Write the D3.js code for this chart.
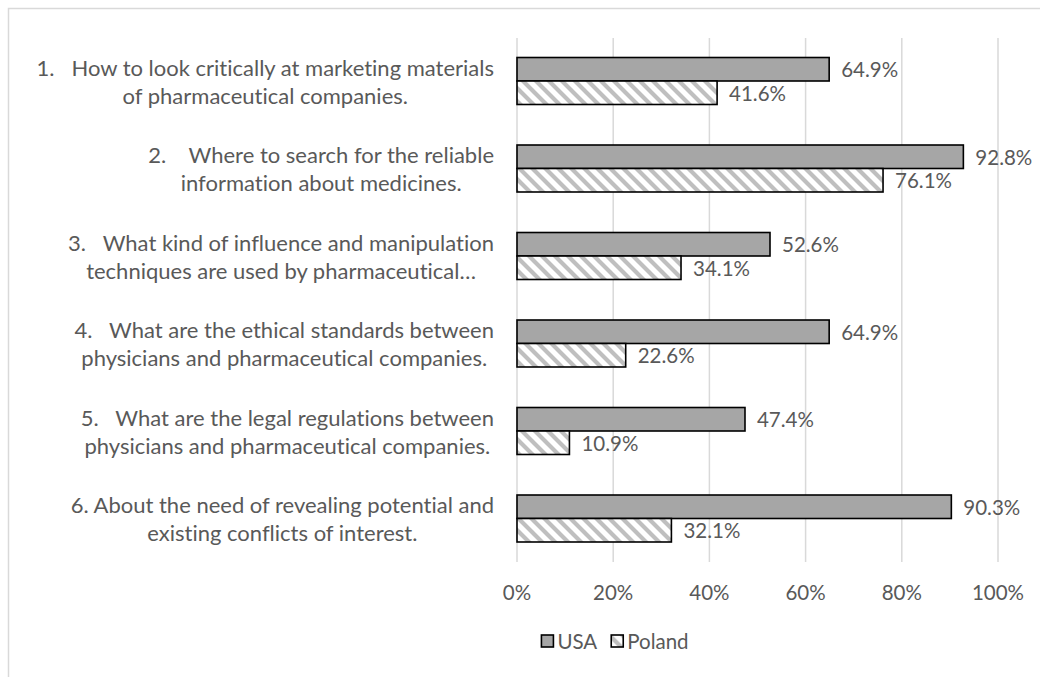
<!DOCTYPE html>
<html>
<head>
<meta charset="utf-8">
<script src="https://cdn.jsdelivr.net/npm/d3@7/dist/d3.min.js"></script>
<style>
  html, body { margin: 0; padding: 0; background: #fff; }
  svg text { font-family: Lato, "Open Sans", sans-serif; fill: #595959; white-space: pre;
             font-variant-ligatures: none; font-feature-settings: "liga" 0, "clig" 0; }
</style>
</head>
<body>
<svg id="chart" width="1040" height="677"></svg>
<script>
const categories = [
  ["1.   How to look critically at marketing materials", "of pharmaceutical companies."],
  ["2.    Where to search for the reliable", "information about medicines."],
  ["3.   What kind of influence and manipulation", "techniques are used by pharmaceutical\u2026"],
  ["4.   What are the ethical standards between", "physicians and pharmaceutical companies."],
  ["5.   What are the legal regulations between", "physicians and pharmaceutical companies."],
  ["6. About the need of revealing potential and", "existing conflicts of interest."]
];
const seriesNames = ["USA", "Poland"];
const usaValues = [64.9, 92.8, 52.6, 64.9, 47.4, 90.3];
const polandValues = [41.6, 76.1, 34.1, 22.6, 10.9, 32.1];
const tickValues = [0, 20, 40, 60, 80, 100];
const tickLabels = ["0%", "20%", "40%", "60%", "80%", "100%"];

const svg = d3.select("#chart");
const FS_CAT = 22;
const FS = 20.5;

// hatch pattern
const T = 13;
const defs = svg.append("defs");
const pat = defs.append("pattern")
  .attr("id", "hatch").attr("patternUnits", "userSpaceOnUse")
  .attr("width", T).attr("height", T);
pat.append("rect").attr("width", T).attr("height", T).attr("fill", "#fff");
pat.append("path")
  .attr("d", `M-3,-3 L${T+3},${T+3} M${-T/2-3},${T/2-3} L${T/2+3},${T+T/2+3} M${T/2-3},${-T/2-3} L${T+T/2+3},${T/2+3}`)
  .attr("stroke", "#bfbfbf").attr("stroke-width", 4.2);

// chart border
svg.append("path")
  .attr("d", "M8.5,677 L8.5,8.5 L1040,8.5")
  .attr("fill", "none").attr("stroke", "#d9d9d9").attr("stroke-width", 1.5);

const x = d3.scaleLinear().domain([0, 100]).range([517, 998]);
const y = d3.scaleBand().domain(d3.range(categories.length))
  .range([37.25, 562.25]).paddingInner(0.463).paddingOuter(0.2315);
const ySub = d3.scaleBand().domain(seriesNames).range([0, y.bandwidth()]);

// gridlines
svg.append("g").selectAll("line").data(tickValues).join("line")
  .attr("x1", d => x(d)).attr("x2", d => x(d))
  .attr("y1", 38).attr("y2", 562)
  .attr("stroke", "#d9d9d9").attr("stroke-width", 1.5);

// tick labels
svg.append("g").selectAll("text").data(tickValues).join("text")
  .attr("x", d => x(d)).attr("y", 592)
  .attr("text-anchor", "middle").attr("dominant-baseline", "central")
  .attr("font-size", FS)
  .text((d, i) => tickLabels[i]);

// bars
const series = [
  { name: "USA", values: usaValues, fill: "#a6a6a6" },
  { name: "Poland", values: polandValues, fill: "url(#hatch)" }
];
series.forEach(s => {
  const g = svg.append("g");
  g.selectAll("rect").data(s.values).join("rect")
    .attr("x", x(0))
    .attr("y", (d, i) => y(i) + ySub(s.name))
    .attr("width", d => x(d) - x(0))
    .attr("height", ySub.bandwidth())
    .attr("fill", s.fill)
    .attr("stroke", "#000").attr("stroke-width", 1.6);
  g.selectAll("text").data(s.values).join("text")
    .attr("x", d => x(d) + 12)
    .attr("y", (d, i) => y(i) + ySub(s.name) + ySub.bandwidth() / 2)
    .attr("dominant-baseline", "central")
    .attr("font-size", FS)
    .text(d => d.toFixed(1) + "%");
});

// category labels
const labelRight = 494;
const lineGap = 28;
categories.forEach((lines, i) => {
  const cy = y(i) + y.bandwidth() / 2;
  const texts = lines.map((ln, j) => svg.append("text")
    .attr("font-size", FS_CAT)
    .attr("text-anchor", "middle")
    .attr("dominant-baseline", "central")
    .attr("y", cy + (j - (lines.length - 1) / 2) * lineGap)
    .text(ln));
  const w = d3.max(texts, t => t.node().getComputedTextLength());
  texts.forEach(t => t.attr("x", labelRight - w / 2));
});

// legend
const legend = svg.append("g");
const legendItems = [
  { name: "USA", fill: "#a6a6a6" },
  { name: "Poland", fill: "url(#hatch)" }
];
const sw = 12, swGap = 4, itemGap = 14, legendCx = 615, legendCy = 641;
const items = legendItems.map(it => {
  const g = legend.append("g");
  g.append("rect").attr("x", 0).attr("y", legendCy - sw / 2).attr("width", sw).attr("height", sw)
    .attr("fill", it.fill).attr("stroke", "#000").attr("stroke-width", 1.6);
  const t = g.append("text").attr("x", sw + swGap).attr("y", legendCy)
    .attr("dominant-baseline", "central").attr("font-size", FS).text(it.name);
  return { g, w: sw + swGap + t.node().getComputedTextLength() };
});
const totalW = d3.sum(items, d => d.w) + itemGap * (items.length - 1);
let cx = legendCx - totalW / 2;
items.forEach(it => { it.g.attr("transform", `translate(${cx},0)`); cx += it.w + itemGap; });
</script>
</body>
</html>
